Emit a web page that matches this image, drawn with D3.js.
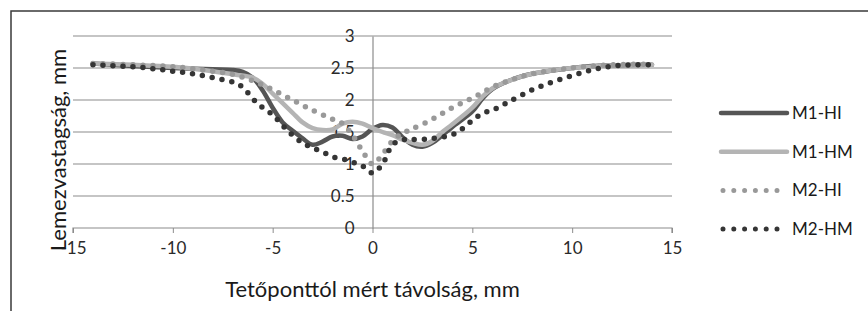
<!DOCTYPE html>
<html>
<head>
<meta charset="utf-8">
<script src="https://cdn.jsdelivr.net/npm/d3@7"></script>
<style>
  body { margin: 0; background: #fff; }
  svg { display: block; font-family: Lato, "Open Sans", sans-serif; }
</style>
</head>
<body>
<svg id="chart" width="868" height="311"></svg>
<script>
// data (x in mm from the top point, y = sheet thickness in mm)
var seriesNames = ['M1-HI', 'M1-HM', 'M2-HI', 'M2-HM']

var m1hiX = [-14, -12, -10, -8, -7, -6.5, -6, -5.5, -5, -4.5, -4, -3.5, -3, -2.5, -2, -1.5, -1, -0.5, 0, 0.5, 1, 1.5, 2, 2.5, 3, 3.5, 4, 5, 5.5, 6, 7, 8, 9, 10, 11, 12, 14]
var m1hiY = [2.57, 2.53, 2.5, 2.48, 2.47, 2.44, 2.35, 2.15, 1.88, 1.65, 1.52, 1.4, 1.3, 1.35, 1.43, 1.44, 1.39, 1.43, 1.55, 1.61, 1.57, 1.42, 1.3, 1.27, 1.33, 1.45, 1.58, 1.82, 2.02, 2.17, 2.32, 2.41, 2.46, 2.5, 2.53, 2.54, 2.55]

var m1hmX = [-14, -12, -10, -8, -7, -6, -5.5, -5, -4.5, -4, -3.5, -3, -2.5, -2, -1.5, -1, -0.5, 0, 0.5, 1, 1.5, 2, 2.5, 3, 3.5, 4, 5, 5.5, 6, 7, 8, 10, 12, 14]
var m1hmY = [2.57, 2.55, 2.52, 2.45, 2.4, 2.35, 2.25, 2.1, 1.95, 1.8, 1.65, 1.56, 1.53, 1.54, 1.63, 1.66, 1.63, 1.56, 1.5, 1.45, 1.38, 1.33, 1.3, 1.36, 1.5, 1.62, 1.88, 2.05, 2.18, 2.32, 2.41, 2.5, 2.54, 2.55]

var m2hiX = [-14, -12, -10, -8, -7, -6, -5, -4, -3, -2, -1.5, -1, -0.5, 0, 0.5, 1, 1.5, 2, 3, 4, 5, 6, 7, 8, 10, 12, 14]
var m2hiY = [2.57, 2.55, 2.52, 2.45, 2.4, 2.3, 2.16, 2.0, 1.84, 1.7, 1.63, 1.45, 1.2, 1.0, 1.15, 1.36, 1.48, 1.55, 1.7, 1.88, 2.03, 2.2, 2.32, 2.41, 2.5, 2.55, 2.56]

var m2hmX = [-14, -12, -11, -10, -9, -8, -7, -6.5, -6, -5.5, -5, -4.5, -4, -3.5, -3, -2.5, -2, -1.5, -1, -0.5, 0, 0.5, 1, 1.5, 2, 3, 4, 4.5, 5, 5.5, 6, 6.5, 7, 8, 9, 10, 11, 12, 13, 14]
var m2hmY = [2.55, 2.52, 2.49, 2.45, 2.41, 2.35, 2.28, 2.2, 2.02, 1.88, 1.77, 1.6, 1.45, 1.33, 1.25, 1.19, 1.11, 1.08, 1.03, 0.97, 0.86, 1.0, 1.3, 1.38, 1.38, 1.4, 1.46, 1.55, 1.68, 1.79, 1.84, 1.92, 2.0, 2.16, 2.28, 2.38, 2.47, 2.53, 2.55, 2.55]

var xTicks = [-15, -10, -5, 0, 5, 10, 15]
var yTicks = [0, 0.5, 1, 1.5, 2, 2.5, 3]

var xTitle = 'Tetőponttól mért távolság, mm'
var yTitle = 'Lemezvastagság, mm'

var colors = ['#555555', '#b4b4b4', '#999999', '#353535']
var dashed = [false, false, true, true]

var allX = [m1hiX, m1hmX, m2hiX, m2hmX]
var allY = [m1hiY, m1hmY, m2hiY, m2hmY]
var series = seriesNames.map(function(name, i) {
  return { name: name, values: allX[i].map(function(x, j) { return { x: x, y: allY[i][j] } }) }
})

var svg = d3.select('#chart')

// outer frame (cut off right / bottom like the source)
svg.append('rect')
  .attr('x', 11).attr('y', 11)
  .attr('width', 880).attr('height', 320)
  .attr('fill', 'none')
  .attr('stroke', '#3a3a3a')
  .attr('stroke-width', 1.5)

var x = d3.scaleLinear().domain([-15, 15]).range([73, 672])
var y = d3.scaleLinear().domain([0, 3]).range([228, 36])

// horizontal gridlines
svg.append('g')
  .selectAll('line')
  .data(yTicks.filter(function(d) { return d > 0 }))
  .enter()
  .append('line')
  .attr('x1', x(-15)).attr('x2', x(15))
  .attr('y1', function(d) { return y(d) })
  .attr('y2', function(d) { return y(d) })
  .attr('stroke', '#8c8c8c')
  .attr('stroke-width', 1.2)

// x axis at y = 0
var xAxis = svg.append('g')
  .attr('transform', 'translate(0,' + y(0) + ')')
  .call(d3.axisBottom(x).tickValues(xTicks).tickSize(5).tickPadding(9).tickFormat(d3.format('d')))
xAxis.select('.domain').attr('stroke', '#8c8c8c').attr('stroke-width', 1.2).attr('d', 'M' + x(-15) + ',5V0H' + x(15) + 'V5')
xAxis.selectAll('.tick line').attr('stroke', '#8c8c8c')
xAxis.selectAll('.tick text')
  .attr('fill', '#2a2a2a')
  .style('font-size', '17px')
  .style('font-family', 'Lato, sans-serif')
  .text(function(d) { return d < 0 ? '-' + Math.abs(d) : d })

// y axis at x = 0
var yAxis = svg.append('g')
  .attr('transform', 'translate(' + x(0) + ',0)')
  .call(d3.axisLeft(y).tickValues(yTicks).tickSize(0).tickPadding(18).tickFormat(function(d) { return d }))
yAxis.select('.domain').attr('stroke', '#8c8c8c').attr('stroke-width', 1.2)
yAxis.selectAll('.tick text')
  .attr('fill', '#2a2a2a')
  .style('font-size', '17px')
  .style('font-family', 'Lato, sans-serif')

// series lines
var line = d3.line()
  .x(function(d) { return x(d.x) })
  .y(function(d) { return y(d.y) })
  .curve(d3.curveCatmullRom.alpha(0.5))

series.forEach(function(s, i) {
  svg.append('path')
    .datum(s.values)
    .attr('d', line)
    .attr('fill', 'none')
    .attr('stroke', colors[i])
    .attr('stroke-width', dashed[i] ? 5.5 : 4.5)
    .attr('stroke-linecap', 'round')
    .attr('stroke-linejoin', 'round')
    .attr('stroke-dasharray', dashed[i] ? '0 10' : null)
})

// axis titles
svg.append('text')
  .attr('x', x(0)).attr('y', 297)
  .attr('text-anchor', 'middle')
  .attr('fill', '#1a1a1a')
  .style('font-size', '22px')
  .text(xTitle)

svg.append('text')
  .attr('transform', 'translate(66,150) rotate(-90)')
  .attr('text-anchor', 'middle')
  .attr('fill', '#1a1a1a')
  .style('font-size', '22px')
  .text(yTitle)

// legend
var legend = svg.append('g')
  .selectAll('g')
  .data(series)
  .enter()
  .append('g')
  .attr('transform', function(d, i) { return 'translate(721,' + (113 + i * 38.7) + ')' })

legend.append('line')
  .attr('x1', function(d, i) { return dashed[i] ? 2 : 0 })
  .attr('x2', function(d, i) { return dashed[i] ? 56 : 66 })
  .attr('stroke', function(d, i) { return colors[i] })
  .attr('stroke-width', function(d, i) { return dashed[i] ? 5 : 4.5 })
  .attr('stroke-linecap', 'round')
  .attr('stroke-dasharray', function(d, i) { return dashed[i] ? '0 10.8' : null })

legend.append('text')
  .attr('x', 71).attr('dy', '0.35em')
  .attr('fill', '#1a1a1a')
  .style('font-size', '17px')
  .text(function(d) { return d.name })
</script>
</body>
</html>
